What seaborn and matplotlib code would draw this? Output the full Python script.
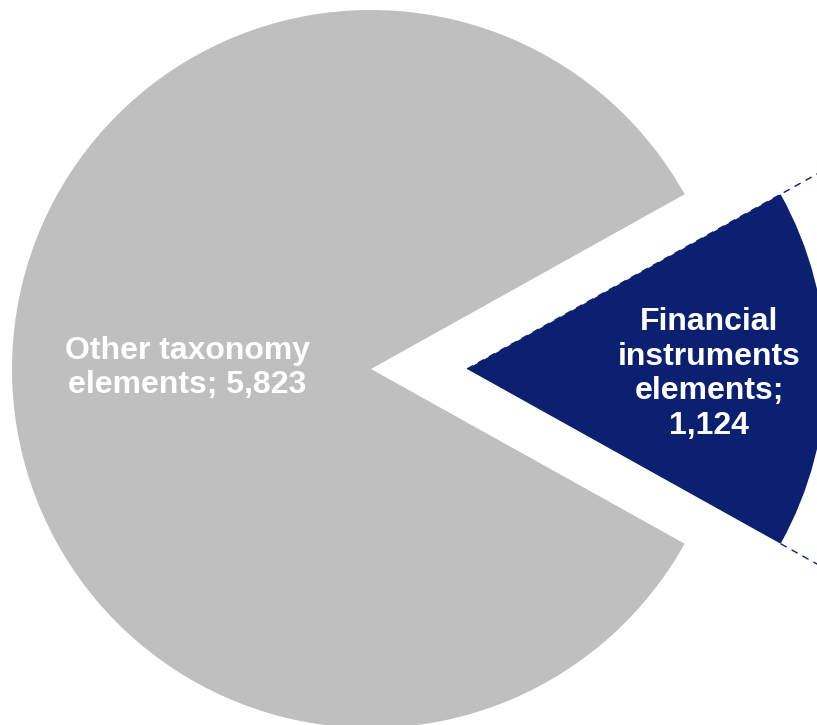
import numpy as np
import matplotlib
matplotlib.use("Agg")
import matplotlib.pyplot as plt
import seaborn as sns

categories = ["Other taxonomy elements", "Financial instruments elements"]
values = [5823, 1124]
label_texts = ["Other taxonomy\nelements; 5,823", "Financial\ninstruments\nelements;\n1,124"]
colors = ["#BFBFBF", "#0B2070"]

sns.set_theme(style="white")
plt.rcParams["font.family"] = ["Liberation Sans", "DejaVu Sans"]

W, H = 817, 725
R = 359.0          # radius in pixels
cx, cy = 371, 356  # pie centre in pixels from bottom-left
fig = plt.figure(figsize=(W / 100, H / 100), dpi=100)
ax = fig.add_axes([0, 0, 1, 1])

total = sum(values)
frac_fin = values[1] / total
half = frac_fin * 360 / 2
explode_r = 96 / R

wedges, _ = ax.pie(values, colors=colors, startangle=half, counterclock=True,
                   explode=[0, explode_r], radius=1.0,
                   wedgeprops=dict(linewidth=0))

ax.set_xlim(-cx / R, (W - cx) / R)
ax.set_ylim(-cy / R, (H - cy) / R)
ax.set_aspect("equal")
ax.axis("off")

# connector dashed lines from the exploded wedge's corners
apex = np.array([explode_r, 0.0])
for sgn in (1, -1):
    d = np.array([np.cos(np.radians(half)), sgn * np.sin(np.radians(half))])
    start = 0.0 if sgn == 1 else 1.0
    p0 = apex + d * start
    p1 = apex + d * 1.4
    ax.plot([p0[0], p1[0]], [p0[1], p1[1]], color=colors[1], lw=1.0,
            ls=(0, (5, 4)), clip_on=True)

ax.text((187 - cx) / R, ((H - 368) - cy) / R, label_texts[0], color="white",
        fontsize=23, fontweight="bold", ha="center", va="center", linespacing=1.18)
ax.text((709 - cx) / R, ((H - 374) - cy) / R, label_texts[1], color="white",
        fontsize=23, fontweight="bold", ha="center", va="center", linespacing=1.19)

fig.savefig("out.png", dpi=100, facecolor="white")
